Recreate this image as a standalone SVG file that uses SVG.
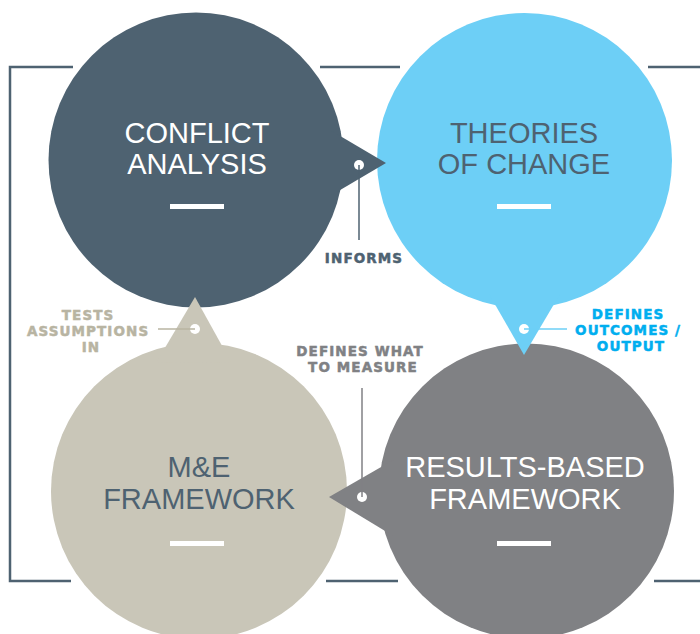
<svg xmlns="http://www.w3.org/2000/svg" width="700" height="634" viewBox="0 0 700 634">
  <style>
    .title { font-family: "Liberation Sans", Arial, sans-serif; font-size: 29px; text-anchor: middle; }
    .lbl { font-family: "DejaVu Sans", sans-serif; font-weight: bold; font-size: 13.5px; letter-spacing: 1.1px; text-anchor: middle; stroke-width: 0.5px; }
    .frame { stroke: #4e6271; stroke-width: 2.5; fill: none; }
    .bar { fill: #ffffff; }
    .dot { fill: #ffffff; }
  </style>
  <rect width="700" height="634" fill="#ffffff"/>
  <g id="frame">
    <path class="frame" d="M73 67 H10 V581 H71"/>
    <path class="frame" d="M320 67 H400"/>
    <path class="frame" d="M648 67 H700"/>
    <path class="frame" d="M326 581 H398"/>
    <path class="frame" d="M654 581 H700"/>
  </g>
  <g id="node-conflict">
    <circle cx="196" cy="160" r="147.5" fill="#4e6271"/>
    <text class="title" x="197" y="143" fill="#ffffff">CONFLICT</text>
    <text class="title" x="197" y="174" fill="#ffffff">ANALYSIS</text>
    <rect class="bar" x="170" y="204" width="54" height="5"/>
  </g>
  <g id="node-theories">
    <circle cx="524.5" cy="160.5" r="147.5" fill="#6dcff6"/>
    <text class="title" x="524" y="143" fill="#4e6271">THEORIES</text>
    <text class="title" x="524" y="174" fill="#4e6271">OF CHANGE</text>
    <rect class="bar" x="497" y="204" width="54" height="5"/>
  </g>
  <g id="node-me">
    <circle cx="199" cy="491" r="148" fill="#c9c6b8"/>
    <text class="title" x="199" y="477" fill="#4e6271">M&amp;E</text>
    <text class="title" x="199" y="509" fill="#4e6271">FRAMEWORK</text>
    <rect class="bar" x="170" y="541" width="54" height="5"/>
  </g>
  <g id="node-results">
    <circle cx="526.5" cy="491" r="147.5" fill="#808184"/>
    <text class="title" x="525" y="477" fill="#ffffff">RESULTS-BASED</text>
    <text class="title" x="525" y="509" fill="#ffffff">FRAMEWORK</text>
    <rect class="bar" x="497" y="541" width="54" height="5"/>
  </g>
  <g id="connectors">
    <polygon points="330,130 386,163 330,196" fill="#4e6271"/>
    <polygon points="156,363 195,297 231,362" fill="#c9c6b8"/>
    <polygon points="489,294 524,355 560,294" fill="#6dcff6"/>
    <polygon points="395,459 329,497 395,537" fill="#808184"/>
    <circle class="dot" cx="359" cy="165" r="5"/>
    <circle class="dot" cx="195" cy="329" r="5"/>
    <circle class="dot" cx="524" cy="329" r="5"/>
    <circle class="dot" cx="362" cy="497" r="5"/>
    <line x1="359" y1="165" x2="359" y2="240" stroke="#4e6271" stroke-width="1.5"/>
    <line x1="195" y1="329" x2="158" y2="329" stroke="#b8b4a2" stroke-width="1.5"/>
    <line x1="524" y1="329" x2="567" y2="329" stroke="#6dcff6" stroke-width="1.5"/>
    <line x1="362" y1="497" x2="362" y2="388" stroke="#808184" stroke-width="1.5"/>
    <text class="lbl" x="364" y="263" fill="#4e6271" stroke="#4e6271">INFORMS</text>
    <text class="lbl" fill="#b8b4a2" stroke="#b8b4a2">
      <tspan x="91" y="320">TESTS</tspan>
      <tspan x="91" y="336">ASSUMPTIONS</tspan>
      <tspan x="91" y="352">IN</tspan>
    </text>
    <text class="lbl" fill="#00aeef" stroke="#00aeef">
      <tspan x="631" y="319">DEFINES</tspan>
      <tspan x="631" y="335">OUTCOMES /</tspan>
      <tspan x="631" y="351">OUTPUT</tspan>
    </text>
    <text class="lbl" fill="#808184" stroke="#808184">
      <tspan x="363" y="356">DEFINES WHAT</tspan>
      <tspan x="363" y="372">TO MEASURE</tspan>
    </text>
  </g>
</svg>
